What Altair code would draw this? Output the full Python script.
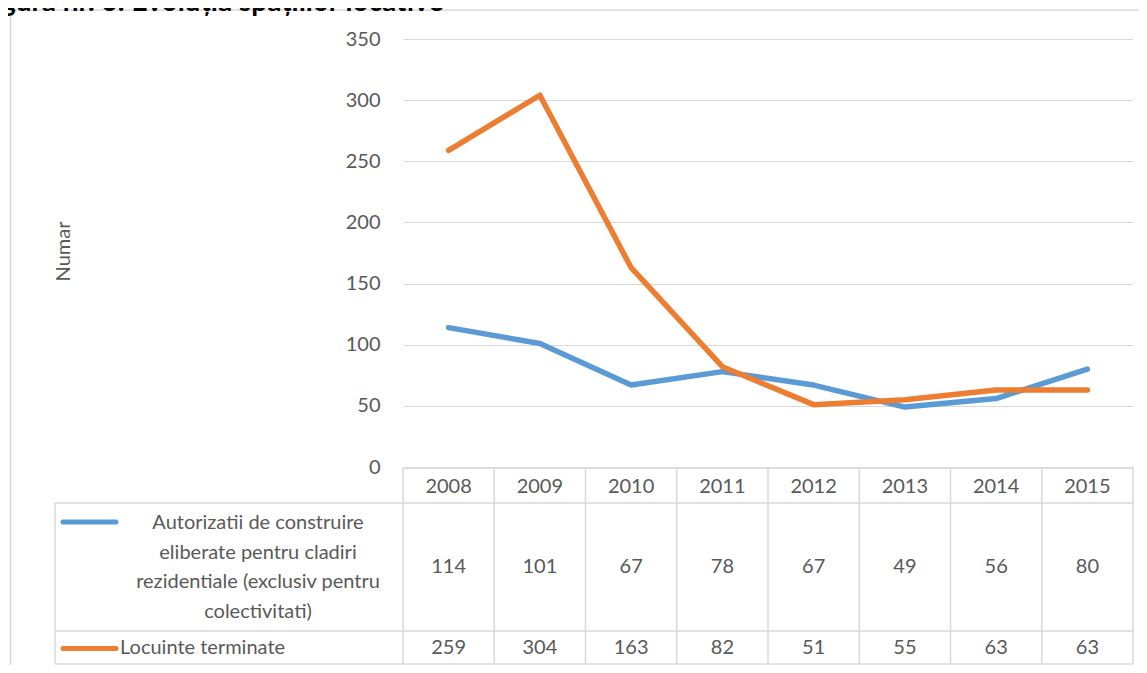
import altair as alt
import pandas as pd

# ---- data ----
years = ["2008", "2009", "2010", "2011", "2012", "2013", "2014", "2015"]
series_names = [
    "Autorizatii de construire eliberate pentru cladiri rezidentiale (exclusiv pentru colectivitati)",
    "Locuinte terminate",
]
series_labels = [
    "Autorizatii de construire\neliberate pentru cladiri\nrezidentiale (exclusiv pentru\ncolectivitati)",
    "Locuinte terminate",
]
autorizatii = [114, 101, 67, 78, 67, 49, 56, 80]
locuinte = [259, 304, 163, 82, 51, 55, 63, 63]
y_ticks = [0, 50, 100, 150, 200, 250, 300, 350]
title_text = "Figura nr. 6: Evoluția spațiilor locative"
y_title = "Numar"

colors = ["#5B9BD5", "#ED7D31"]
grid_col = "#D9D9D9"
txt_col = "#595959"
FONT = "Lato"
FS = 20

df = pd.DataFrame({
    "an": years * 2,
    "serie": [series_names[0]] * len(years) + [series_names[1]] * len(years),
    "valoare": autorizatii + locuinte,
})
df_years = pd.DataFrame({"an": years})

W, H = 730, 428

xenc = alt.X("an:O", scale=alt.Scale(type="point", padding=0.5, domain=years), axis=None)
yenc = alt.Y(
    "valoare:Q",
    scale=alt.Scale(domain=[0, 350], nice=False),
    axis=alt.Axis(
        values=y_ticks, title=y_title, grid=True, gridColor=grid_col, gridWidth=1,
        domain=False, ticks=False, labelPadding=23,
        labelFont=FONT, labelFontSize=FS, labelColor=txt_col,
        titleFont=FONT, titleFontSize=FS, titleColor=txt_col, titleFontWeight="normal",
        titleX=-334, titleY=212, titleAlign="center", titleBaseline="alphabetic",
    ),
)
color_scale = alt.Scale(domain=series_names, range=colors)

lines = alt.Chart(df).mark_line(strokeWidth=5.5, strokeCap="round", strokeJoin="round").encode(
    x=xenc, y=yenc, color=alt.Color("serie:N", scale=color_scale, legend=None)
)

def txt(**kw):
    base = dict(font=FONT, fontSize=FS, color=txt_col)
    base.update(kw)
    return base

# table row geometry (chart pixels, relative to plot origin)
R_HEAD_TOP, R1_TOP, R2_TOP, R_BOT = 429, 464, 592, 625
LEFT_COL = -348

header = alt.Chart(df_years).mark_text(**txt(baseline="middle")).encode(
    x=xenc, y=alt.value(448), text="an:N"
)
row1 = alt.Chart(df).transform_filter(alt.datum.serie == series_names[0]).mark_text(
    **txt(baseline="middle")).encode(x=xenc, y=alt.value(528), text="valoare:Q")
row2 = alt.Chart(df).transform_filter(alt.datum.serie == series_names[1]).mark_text(
    **txt(baseline="middle")).encode(x=xenc, y=alt.value(608.5), text="valoare:Q")

lab1 = alt.Chart(pd.DataFrame({"t": [series_labels[0]]})).mark_text(
    **txt(align="center", baseline="middle", lineBreak="\n", lineHeight=29.6)
).encode(x=alt.value(-145), y=alt.value(484), text="t:N")
lab2 = alt.Chart(pd.DataFrame({"t": [series_labels[1]]})).mark_text(
    **txt(align="left", baseline="middle")
).encode(x=alt.value(-283), y=alt.value(608.5), text="t:N")

sw1 = alt.Chart(df_years.head(1)).mark_rule(strokeWidth=5, strokeCap="round", color=colors[0]).encode(
    x=alt.value(-340), x2=alt.value(-287), y=alt.value(483))
sw2 = alt.Chart(df_years.head(1)).mark_rule(strokeWidth=5, strokeCap="round", color=colors[1]).encode(
    x=alt.value(-340), x2=alt.value(-287), y=alt.value(609.5))

def hline(y, x1, x2, w=1.5):
    return alt.Chart(df_years.head(1)).mark_rule(color=grid_col, strokeWidth=w).encode(
        x=alt.value(x1), x2=alt.value(x2), y=alt.value(y))

def vline(x, y1, y2, w=1.5):
    return alt.Chart(df_years.head(1)).mark_rule(color=grid_col, strokeWidth=w).encode(
        x=alt.value(x), y=alt.value(y1), y2=alt.value(y2))

borders = [
    hline(R_HEAD_TOP, 0, W),
    hline(R1_TOP, LEFT_COL, W),
    hline(R2_TOP, LEFT_COL, W),
    hline(R_BOT, LEFT_COL, W),
    vline(LEFT_COL, R1_TOP, R_BOT),
]
for k in range(len(years) + 1):
    borders.append(vline(k * W / len(years), R_HEAD_TOP, R_BOT))

outer = [
    hline(-29, -392.5, 760, 1.5),
    vline(-392.5, -29, 650, 1.5),
]

title = alt.Chart(df_years.head(1)).mark_text(
    font=FONT, fontSize=28, fontWeight="bold", color="#000000", align="left", baseline="alphabetic"
).encode(x=alt.value(-425), y=alt.value(-28.5), text=alt.value(title_text))

chart = alt.layer(
    *outer, title, *borders, header, row1, row2, lab1, lab2, sw1, sw2, lines
).properties(
    width=W, height=H,
    padding={"left": 395, "top": 31, "right": 6, "bottom": 198},
    autosize=alt.AutoSizeParams(type="none"),
).configure_view(stroke=None)

chart.save("out.html", embed_options={"renderer": "svg", "actions": False})
